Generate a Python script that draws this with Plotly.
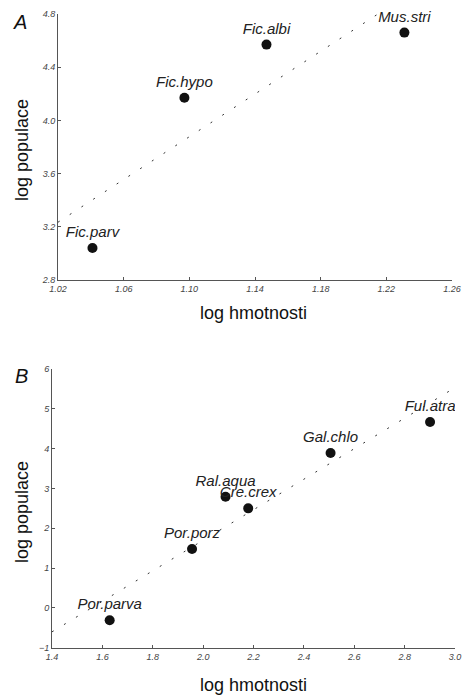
import numpy as np
import plotly.graph_objects as go

# Panel A: flycatchers / Muscicapidae
a_species = ["Fic.parv", "Fic.hypo", "Fic.albi", "Mus.stri"]
a_log_mass = [1.041, 1.097, 1.147, 1.231]
a_log_pop = [3.04, 4.17, 4.57, 4.66]

# Panel B: rails / Rallidae
b_species = ["Por.parva", "Por.porz", "Ral.aqua", "Cre.crex", "Gal.chlo", "Ful.atra"]
b_log_mass = [1.629, 1.956, 2.089, 2.179, 2.506, 2.901]
b_log_pop = [-0.31, 1.48, 2.79, 2.50, 3.89, 4.67]

a_xrange = [1.02, 1.26]
a_yrange = [2.8, 4.8]
b_xrange = [1.4, 3.0]
b_yrange = [-1, 6]

W, H = 465, 696
FONT = "Liberation Sans, Arial, sans-serif"
AXIS_COL = "#555555"

fig = go.Figure()


def add_panel(species, xs, ys, xr, xa, ya, clip):
    slope, icpt = np.polyfit(xs, ys, 1)
    fx = np.array(xr)
    fig.add_trace(go.Scatter(
        x=fx, y=slope * fx + icpt, mode="lines",
        line=dict(color="#333333", width=1, dash="2px,12px"),
        xaxis=xa, yaxis=ya, hoverinfo="skip", showlegend=False))
    fig.add_trace(go.Scatter(
        x=xs, y=ys, mode="markers+text", text=species,
        textposition="top center", cliponaxis=clip,
        textfont=dict(family=FONT, size=15, color="#222222", style="italic"),
        marker=dict(color="#111111", size=10),
        xaxis=xa, yaxis=ya, showlegend=False))


add_panel(a_species, a_log_mass, a_log_pop, a_xrange, "x", "y", False)
add_panel(b_species, b_log_mass, b_log_pop, b_xrange, "x2", "y2", True)

tickfont = dict(family=FONT, size=9, color="#444444", style="italic")
titlefont = dict(family=FONT, size=18, color="#111111")
common = dict(showline=True, linecolor=AXIS_COL, linewidth=1, ticks="inside",
              ticklen=3, tickcolor=AXIS_COL, showgrid=False, zeroline=False,
              tickfont=tickfont, fixedrange=True, automargin=False)


def paper(px, py):
    return px / W, 1 - py / H


def label(text, px, py, size, italic=False, angle=0):
    x, y = paper(px, py)
    return dict(text=text, x=x, y=y, xref="paper", yref="paper", showarrow=False,
                xanchor="center", yanchor="middle", textangle=angle,
                font=dict(family=FONT, size=size, color="#111111",
                          style="italic" if italic else "normal"))


fig.update_layout(
    template="none",
    width=W, height=H, margin=dict(l=0, r=0, t=0, b=0),
    paper_bgcolor="white", plot_bgcolor="white",
    xaxis=dict(domain=[58 / W, 452 / W], range=a_xrange, tick0=1.02, dtick=0.04,
               tickformat=".2f", anchor="y", **common),
    yaxis=dict(domain=[1 - 280 / H, 1 - 14 / H], range=a_yrange, tick0=2.8, dtick=0.4,
               tickformat=".1f", anchor="x", **common),
    xaxis2=dict(domain=[52 / W, 455 / W], range=b_xrange, tick0=1.4, dtick=0.2,
                tickformat=".1f", anchor="y2", **common),
    yaxis2=dict(domain=[1 - 647.7 / H, 1 - 369 / H], range=b_yrange, tick0=-1, dtick=1,
                anchor="x2", **common),
    annotations=[
        label("A", 20, 22, 20, italic=True),
        label("B", 21, 376, 20, italic=True),
        label("log hmotnosti", 253, 313, 18),
        label("log populace", 22, 150, 18, angle=-90),
        label("log hmotnosti", 253, 685, 18),
        label("log populace", 22, 512, 18, angle=-90),
    ],
)

fig.write_html("out.html")
